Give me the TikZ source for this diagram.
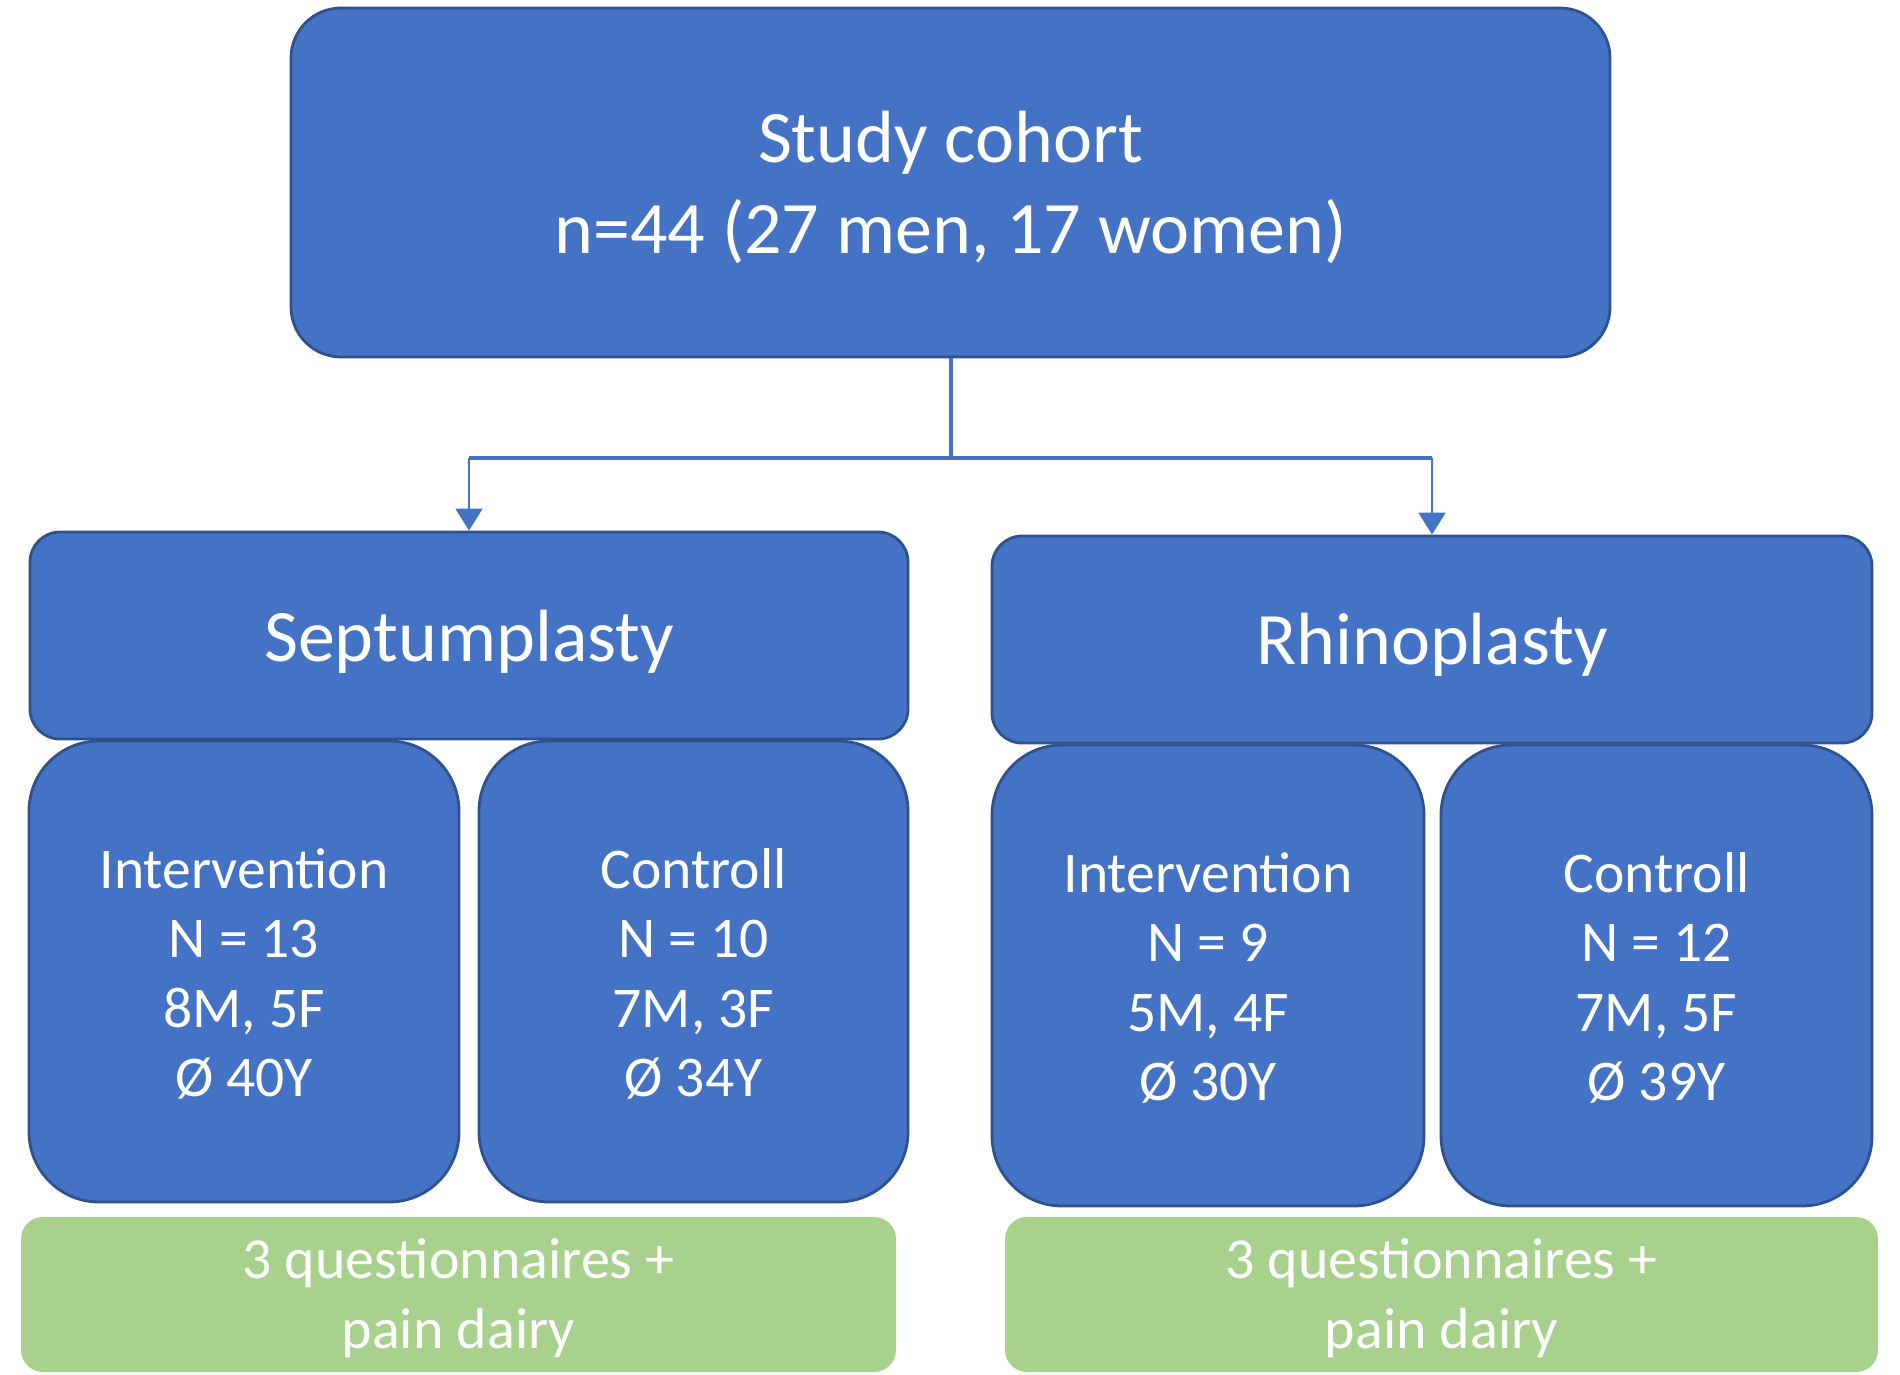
\documentclass[tikz,border=0pt]{standalone}
\usepackage{fontspec}
\setmainfont{Carlito}
\usetikzlibrary{arrows.meta}
\definecolor{bfill}{HTML}{4472C4}
\definecolor{bdraw}{HTML}{2F528F}
\definecolor{gfill}{HTML}{A9D18E}
\begin{document}
\begin{tikzpicture}[x=0.5pt,y=-0.5pt,
  bluebox/.style={draw=bdraw, line width=1.4pt, fill=bfill, inner sep=0pt, label distance=0pt},
  greenbox/.style={fill=gfill, inner sep=0pt, rounded corners=11pt, label distance=0pt},
  wtxt/.style={text=white, align=center, inner sep=0pt},
  bigtxt/.style={wtxt, font=\fontsize{37pt}{45.5pt}\selectfont},
  smalltxt/.style={wtxt, font=\fontsize{28.8pt}{34.7pt}\selectfont},
  gtxt/.style={wtxt, font=\fontsize{29pt}{35pt}\selectfont},
  trunk/.style={draw=bfill, line width=2pt},
  drop/.style={draw=bfill, line width=1pt, -{Triangle[width=13.5pt,length=11pt]}}
]
\useasboundingbox (0,0) rectangle (1900,1375);

\node[bluebox, minimum width=659.5pt, minimum height=174.5pt, rounded corners=25pt,
  label={[bigtxt, yshift=-2.5pt]center:{Study cohort\\n=44 (27 men, 17 women)}}]
  (top) at (950.5,182.5) {};

\node[bluebox, minimum width=439pt, minimum height=103.5pt, rounded corners=15pt,
  label={[bigtxt, yshift=-3pt]center:Septumplasty}]
  (sept) at (469,635.5) {};
\node[bluebox, minimum width=440pt, minimum height=103.5pt, rounded corners=15pt,
  label={[bigtxt, yshift=-2.5pt]center:Rhinoplasty}]
  (rhino) at (1432,639.5) {};

\node[bluebox, minimum width=215pt, minimum height=230.5pt, rounded corners=35pt,
  label={[smalltxt, yshift=-1.2pt]center:{Intervention\\N = 13\\8M, 5F\\Ø 40Y}}]
  (intl) at (244,971.5) {};
\node[bluebox, minimum width=214.5pt, minimum height=230.5pt, rounded corners=35pt,
  label={[smalltxt, yshift=-1.2pt]center:{Controll\\N = 10\\7M, 3F\\Ø 34Y}}]
  (ctrl) at (693.5,971.5) {};
\node[bluebox, minimum width=216pt, minimum height=230.5pt, rounded corners=35pt,
  label={[smalltxt, yshift=-1.2pt]center:{Intervention\\N = 9\\5M, 4F\\Ø 30Y}}]
  (intr) at (1208,975.5) {};
\node[bluebox, minimum width=215.5pt, minimum height=230.5pt, rounded corners=35pt,
  label={[smalltxt, yshift=-1.2pt]center:{Controll\\N = 12\\7M, 5F\\Ø 39Y}}]
  (ctrr) at (1656.5,975.5) {};

\node[greenbox, minimum width=437.5pt, minimum height=77.5pt,
  label={[gtxt, yshift=-1.8pt]center:{3 questionnaires +\\pain dairy}}]
  (gl) at (458.5,1294.5) {};
\node[greenbox, minimum width=436.5pt, minimum height=77.5pt,
  label={[gtxt, yshift=-1.8pt]center:{3 questionnaires +\\pain dairy}}]
  (gr) at (1441.5,1294.5) {};

\coordinate (j) at (950.5,458);
\draw[trunk] (top.south) -- (j);
\draw[trunk] (j -| sept.north) -- (j -| rhino.north);
\draw[drop] (j -| sept.north) -- (sept.north);
\draw[drop] (j -| rhino.north) -- (rhino.north);
\end{tikzpicture}
\end{document}
